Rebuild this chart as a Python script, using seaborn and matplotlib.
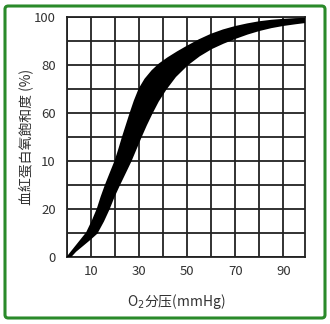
import matplotlib
matplotlib.use("Agg")
import matplotlib.pyplot as plt
import seaborn as sns
import pandas as pd
import numpy as np
from matplotlib.patches import FancyBboxPatch

sns.set_theme(style="white")
plt.rcParams['font.family'] = ['Noto Sans CJK SC', 'DejaVu Sans']

# Upper/left edge of the thick dissociation band (PO2 mmHg, saturation %)
upper_po2 = [0.3, 2.3, 4.3, 6.3, 8.3, 10.7, 12.8, 14.4, 16.2, 18.2, 20.2, 21.8, 23.3,
             24.9, 26.5, 28.2, 30.2, 32.6, 35.5, 38.5, 42, 46, 50, 55, 60, 65, 70,
             75, 80, 85, 90, 95, 99]
upper_sat = [0, 2.5, 5, 7.5, 10, 15, 20, 25, 30, 35, 40, 45, 50,
             55, 60, 65, 70, 74, 77.5, 80.3, 82.8, 85.3, 87.6, 90.3, 92.6, 94.4, 95.8,
             96.9, 97.8, 98.4, 98.8, 99.1, 99.2]
# Lower/right edge of the band
lower_po2 = [1.2, 3.5, 6.5, 9.5, 12.3, 15, 17.3, 19.3, 21.6, 24, 26.4, 28.5, 30.6,
             32.8, 35.2, 37.8, 41, 45, 50, 55, 60, 65, 70, 75, 80, 85, 90, 95, 99]
lower_sat = [0, 2.5, 5, 7.5, 10, 15, 20, 25, 30, 35, 40, 45, 50,
             55, 60, 65, 70, 75.3, 80.2, 84, 87, 89.3, 91.3, 93.1, 94.6, 95.8, 96.7,
             97.4, 97.9]

xticks = [10, 30, 50, 70, 90]
yticks = [0, 20, 40, 60, 80, 100]
ytick_labels = ["0", "20", "10", "60", "80", "100"]

band = pd.DataFrame({
    "po2": upper_po2 + lower_po2[::-1],
    "sat": upper_sat + lower_sat[::-1],
})

fig = plt.figure(figsize=(3.30, 3.24), dpi=100)
ax = fig.add_axes([67/330, 1-257/324, 238/330, 240/324])

ax.fill(band["po2"], band["sat"], color="black", lw=0, zorder=3)
sns.lineplot(data=band, x="po2", y="sat", sort=False, estimator=None, ax=ax,
             color="black", lw=1.5, zorder=3)

ax.set_xlim(0, 99)
ax.set_ylim(0, 100)
ax.set_xticks(xticks)
ax.set_yticks(yticks)
ax.set_yticklabels(ytick_labels)
ax.set_xticks(np.arange(0, 100, 10), minor=True)
ax.set_yticks(np.arange(0, 101, 10), minor=True)
ax.grid(True, which="both", color="#222222", lw=1.3)
ax.tick_params(axis="both", which="both", length=0, labelsize=9.5, colors="#333333")
ax.tick_params(axis="y", pad=8)
ax.tick_params(axis="x", pad=6)
for s in ax.spines.values():
    s.set_color("#222222")
    s.set_linewidth(1.3)

ax.set_xlabel("O$_2$分压(mmHg)", fontsize=10, color="#333333")
ax.set_ylabel("血紅蛋白氧飽和度 (%)", fontsize=10, color="#333333")
ax.xaxis.set_label_coords(0.46, -0.145)
ax.yaxis.set_label_coords(-0.142, 0.5)

border = FancyBboxPatch((5/330, 6/324), 320/330, 312/324,
                        boxstyle="round,pad=0,rounding_size=0.01",
                        transform=fig.transFigure, fill=False,
                        edgecolor="#2a8a2a", lw=2.2)
fig.patches.append(border)

fig.savefig("out.png", dpi=100)
